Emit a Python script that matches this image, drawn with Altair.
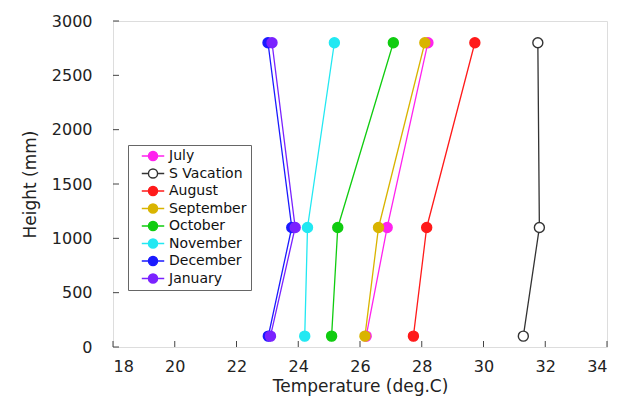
import altair as alt
import pandas as pd

heights = [100, 1100, 2800]
months = ["July", "S Vacation", "August", "September", "October", "November", "December", "January"]
july = [26.2, 26.88, 28.2]
s_vacation = [31.29, 31.81, 31.76]
august = [27.73, 28.16, 29.72]
september = [26.16, 26.6, 28.1]
october = [25.08, 25.28, 27.08]
november = [24.21, 24.3, 25.17]
december = [23.03, 23.79, 23.02]
january = [23.1, 23.9, 23.15]
series = [july, s_vacation, august, september, october, november, december, january]

stroke_colors = ["#ff22ee", "#333333", "#ff1a1a", "#d9b400", "#10cc10", "#22e8f2", "#1a1aff", "#7a22ff"]
fill_colors = ["#ff22ee", "#ffffff", "#ff1a1a", "#d9b400", "#10cc10", "#22e8f2", "#1a1aff", "#7a22ff"]

x_ticks = [18, 20, 22, 24, 26, 28, 30, 32, 34]
y_ticks = [0, 500, 1000, 1500, 2000, 2500, 3000]

rows = []
for i, (m, vals) in enumerate(zip(months, series)):
    for h, t in zip(heights, vals):
        rows.append({"month": m, "temp": t, "height": h, "order": i})
df = pd.DataFrame(rows)

W, H = 494, 326
FONT = "DejaVu Sans"

xscale = alt.Scale(domain=[18, 34], nice=False, zero=False)
yscale = alt.Scale(domain=[0, 3000], nice=False)

xax = alt.Axis(values=x_ticks, ticks=False, domain=False, grid=False, labelPadding=11,
               titlePadding=4, labelFontSize=16, titleFontSize=17, titleFontWeight="normal",
               labelColor="#222", titleColor="#222", labelFont=FONT, titleFont=FONT)
yax = alt.Axis(values=y_ticks, ticks=False, domain=False, grid=False, labelPadding=21, format="d",
               titlePadding=12, labelFontSize=16, titleFontSize=17, titleFontWeight="normal",
               labelColor="#222", titleColor="#222", labelFont=FONT, titleFont=FONT)

stroke_scale = alt.Scale(domain=months, range=stroke_colors)
fill_scale = alt.Scale(domain=months, range=fill_colors)

sym = "M-1.87,0H-0.76M0.76,0H1.87M0.76,0A0.76,0.76,0,1,1,-0.76,0A0.76,0.76,0,1,1,0.76,0Z"
legend = alt.Legend(title=None, orient="none", legendX=15, legendY=124, symbolType=sym,
                    symbolSize=144, symbolStrokeWidth=1.4, symbolOffset=14, labelOffset=9,
                    labelFontSize=14, labelFont=FONT, labelColor="#111", padding=4,
                    rowPadding=1.5, strokeColor="#666", fillColor="white", cornerRadius=0)

base = alt.Chart(df)

lines = base.mark_line(strokeWidth=1.3).encode(
    x=alt.X("temp:Q", scale=xscale, axis=xax, title="Temperature (deg.C)"),
    y=alt.Y("height:Q", scale=yscale, axis=yax, title="Height (mm)"),
    stroke=alt.Stroke("month:N", scale=stroke_scale, legend=legend),
    detail="month:N",
    order="height:Q",
)

points = base.mark_point(filled=False, size=100, strokeWidth=1.4, opacity=1).encode(
    x="temp:Q",
    y="height:Q",
    stroke=alt.Stroke("month:N", scale=stroke_scale, legend=legend),
    fill=alt.Fill("month:N", scale=fill_scale, legend=legend),
    order="order:Q",
)

xt = alt.Chart(pd.DataFrame({"v": x_ticks})).mark_rule(color="#444", strokeWidth=1).encode(
    x=alt.X("v:Q", scale=xscale), y=alt.value(H), y2=alt.value(H - 6))
yt = alt.Chart(pd.DataFrame({"v": y_ticks})).mark_rule(color="#444", strokeWidth=1).encode(
    y=alt.Y("v:Q", scale=yscale), x=alt.value(0), x2=alt.value(6))

chart = alt.layer(xt, yt, lines, points).properties(
    width=W, height=H,
    autosize=alt.AutoSizeParams(type="none"),
    padding={"left": 113, "top": 21, "right": 18, "bottom": 50},
).configure_view(stroke="#555", strokeWidth=1.5).configure(background="white")

chart.save("out.html", embed_options={"renderer": "svg", "actions": False})
